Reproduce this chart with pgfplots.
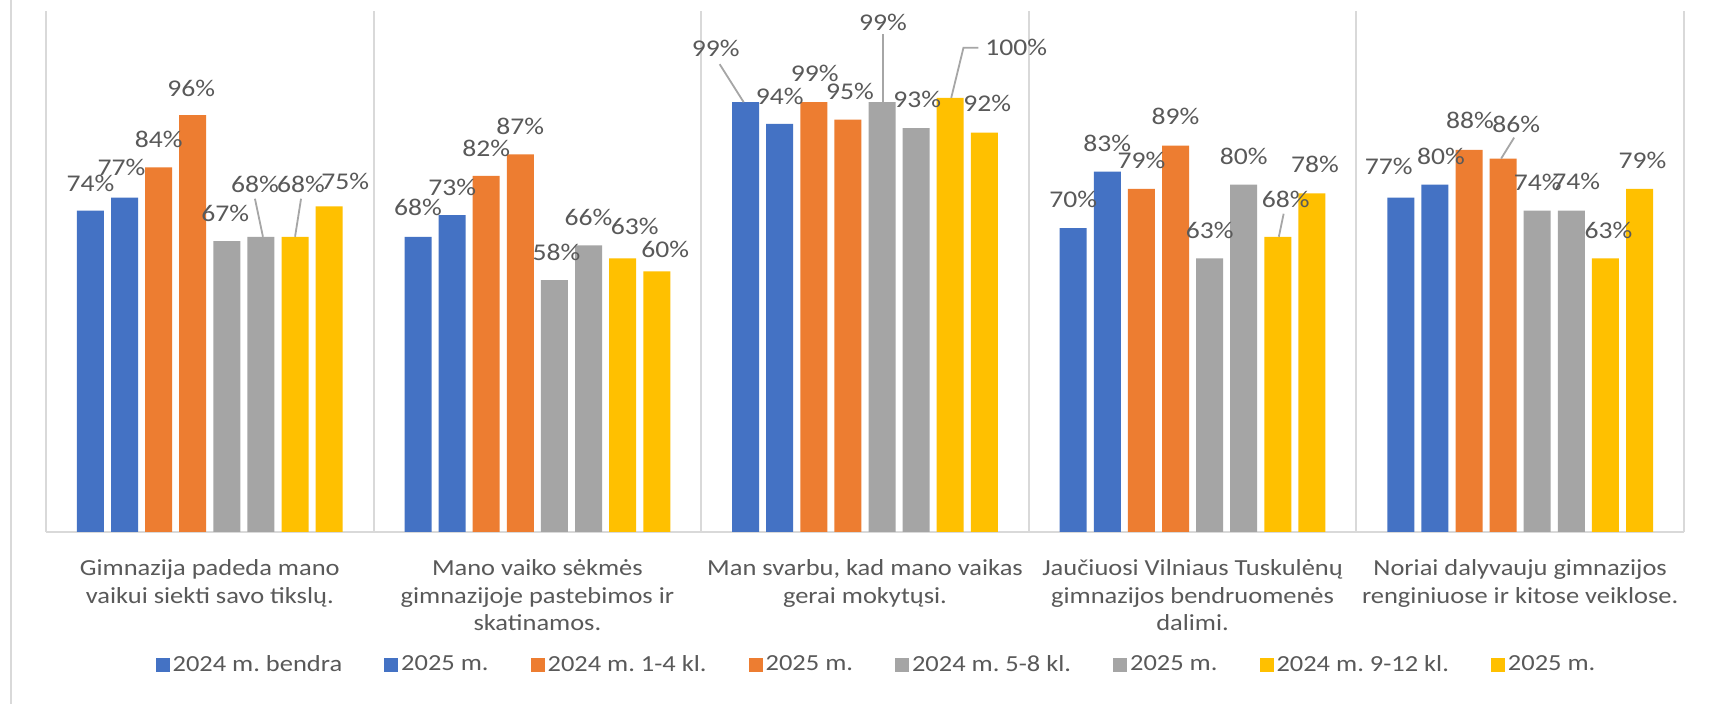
\documentclass[border=0pt]{standalone}
\usepackage{fontspec}
\setmainfont{Carlito}[FakeStretch=1.15]
\usepackage{pgfplots}
\pgfplotsset{compat=1.18}
\usepackage{pgfplotstable}
\definecolor{cblue}{HTML}{4472C4}
\definecolor{corange}{HTML}{ED7D31}
\definecolor{cgray}{HTML}{A5A5A5}
\definecolor{cgold}{HTML}{FFC000}
\definecolor{txt}{HTML}{595959}
\definecolor{gridc}{HTML}{D9D9D9}
\definecolor{leader}{HTML}{A6A6A6}

\pgfplotstableread{
x y dx dy
0 74 0 13.8
1 68 0 14.6
2 99 -15 26.9
3 70 0 14.2
4 77 -6 15.5
}\sA
\pgfplotstableread{
x y dx dy
0 77 -1.5 15.3
1 73 0 13.8
2 94 0 13.8
3 83 0 14.2
4 80 3 14.3
}\sB
\pgfplotstableread{
x y dx dy
0 84 0 13.8
1 82 0 13.7
2 99 0.5 14.2
3 79 0 14.2
4 88 0.5 15
}\sC
\pgfplotstableread{
x y dx dy
0 96 -0.75 13.4
1 87 0 13.8
2 95 1 14
3 89 0 14.6
4 86 6.5 17
}\sD
\pgfplotstableread{
x y dx dy
0 67 -0.75 13.8
1 58 1 14
2 99 0.5 40
3 63 0 13.8
4 74 0.25 14
}\sE
\pgfplotstableread{
x y dx dy
0 68 -3 26.1
1 66 0 13.8
2 93 0.5 14.2
3 80 0 14.1
4 74 2.5 14.5
}\sF
\pgfplotstableread{
x y dx dy
0 68 3 26.1
1 63 6 16
2 100 33 25
3 68 4 18.7
4 63 1.5 14
}\sG
\pgfplotstableread{
x y dx dy
0 75 8 12.7
1 60 4.25 11.2
2 92 1.5 14.6
3 78 1.5 14.6
4 79 1.5 14.3
}\sH

\pgfplotsset{
  lbl/.style={
    nodes near coords={\pgfmathprintnumber[fixed,precision=0,assume math mode=true]{\pgfplotspointmeta}\%},
    visualization depends on={\thisrow{dx}\as\lblx},
    visualization depends on={\thisrow{dy}\as\lbly},
    every node near coord/.append style={anchor=center, xshift=\lblx pt, yshift=\lbly pt,
      font=\fontsize{12}{14}\selectfont, text=txt, inner sep=0pt},
  },
}

\begin{document}
\begin{tikzpicture}
\useasboundingbox (-23pt,-86pt) rectangle (840pt,266pt);
\fill[white] (-23pt,-86pt) rectangle (840pt,266pt);
\draw[gridc, line width=0.8pt] (-17.5pt,-86pt) -- (-17.5pt,266pt);
\begin{axis}[
  at={(0,0)}, anchor=south west,
  scale only axis, width=819pt, height=260.5pt,
  xmin=-0.5, xmax=4.5, ymin=0, ymax=120,
  ybar=3.55pt, bar width=13.5pt,
  axis x line*=bottom, axis y line=none,
  x axis line style={draw=gridc, line width=1.2pt},
  ytick=\empty,
  xtick={0,1,2,3,4},
  xticklabels={
    {Gimnazija padeda mano\\vaikui siekti savo tikslų.},
    {Mano vaiko sėkmės\\gimnazijoje pastebimos ir\\skatinamos.},
    {Man svarbu, kad mano vaikas\\gerai mokytųsi.},
    {Jaučiuosi Vilniaus Tuskulėnų\\gimnazijos bendruomenės\\dalimi.},
    {Noriai dalyvauju gimnazijos\\renginiuose ir kitose veiklose.}},
  major x tick style={draw=none},
  xticklabel style={font=\fontsize{11.5}{13.75}\selectfont, text=txt, align=center,
    anchor=north, inner sep=0pt, yshift=-9.5pt},
  extra x ticks={-0.5,0.5,1.5,2.5,3.5,4.5},
  extra x tick labels={},
  extra x tick style={grid=major, major grid style={draw=gridc, line width=1pt},
    major tick style={draw=none}},
  clip=false,
  legend columns=8,
  legend style={at={(0.5,0)}, anchor=center, xshift=6pt, yshift=-66.5pt, draw=none, fill=none,
    font=\fontsize{11.5}{13.75}\selectfont, text=txt, column sep=0pt,
    /tikz/every even column/.append style={column sep=19.5pt},
    nodes={inner sep=1.5pt}},
  legend image code/.code={\fill[#1] (0pt,-3.3pt) rectangle (7pt,3.7pt);},
]
\addplot[fill=cblue, draw=none, lbl] table[x=x,y=y] {\sA};
\addlegendentry{2024 m.\ bendra}
\addplot[fill=cblue, draw=none, lbl] table[x=x,y=y] {\sB};
\addlegendentry{2025 m.}
\addplot[fill=corange, draw=none, lbl] table[x=x,y=y] {\sC};
\addlegendentry{2024 m.\ 1-4 kl.}
\addplot[fill=corange, draw=none, lbl] table[x=x,y=y] {\sD};
\addlegendentry{2025 m.}
\addplot[fill=cgray, draw=none, lbl] table[x=x,y=y] {\sE};
\addlegendentry{2024 m.\ 5-8 kl.}
\addplot[fill=cgray, draw=none, lbl] table[x=x,y=y] {\sF};
\addlegendentry{2025 m.}
\addplot[fill=cgold, draw=none, lbl] table[x=x,y=y] {\sG};
\addlegendentry{2024 m.\ 9-12 kl.}
\addplot[fill=cgold, draw=none, lbl] table[x=x,y=y] {\sH};
\addlegendentry{2025 m.}
% leader lines
\draw[leader, line width=0.9pt] ([xshift=1pt]axis cs:0.15614,68) -- ([xshift=-3pt,yshift=19pt]axis cs:0.15614,68);
\draw[leader, line width=0.9pt] (axis cs:0.26023,68) -- ([xshift=3pt,yshift=19pt]axis cs:0.26023,68);
\draw[leader, line width=0.9pt] ([xshift=-1pt]axis cs:1.63568,99) -- ([xshift=-13pt,yshift=19pt]axis cs:1.63568,99);
\draw[leader, line width=0.9pt] ([xshift=0.5pt]axis cs:2.05205,99) -- ([xshift=0.5pt,yshift=34pt]axis cs:2.05205,99);
\draw[leader, line width=0.9pt] ([xshift=0.5pt]axis cs:2.26023,100) -- ([xshift=6.6pt,yshift=25pt]axis cs:2.26023,100) -- ([xshift=14pt,yshift=25pt]axis cs:2.26023,100);
\draw[leader, line width=0.9pt] ([xshift=0.5pt]axis cs:3.26023,68) -- ([xshift=2.9pt,yshift=11.5pt]axis cs:3.26023,68);
\draw[leader, line width=0.9pt] ([xshift=-1pt]axis cs:3.94795,86) -- ([xshift=5.5pt,yshift=10.5pt]axis cs:3.94795,86);
\end{axis}
\end{tikzpicture}
\end{document}
